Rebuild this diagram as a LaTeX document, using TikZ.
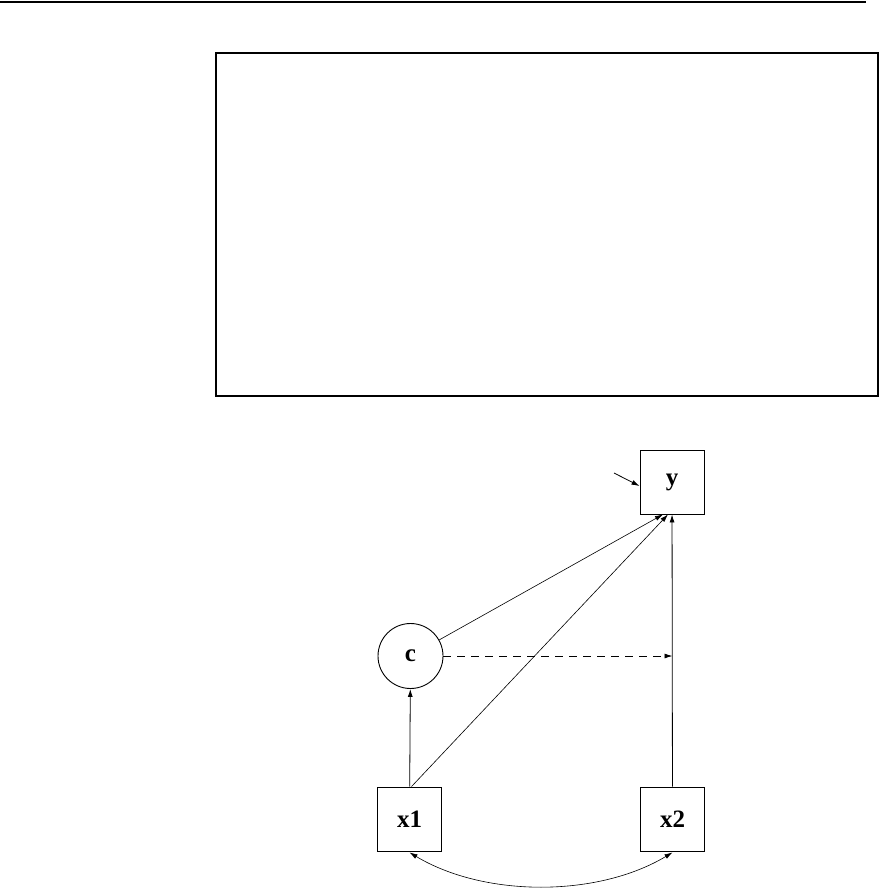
\documentclass[tikz,border=0pt]{standalone}
\usepackage{fontspec}
\setmainfont{Liberation Serif}
\usetikzlibrary{arrows.meta,positioning,calc}

\begin{document}
\begin{tikzpicture}[
  x=1pt,y=-1pt,
  obsvar/.style={rectangle,draw,line width=.9pt,minimum size=64pt,inner sep=0pt,font=\fontsize{25}{30}\selectfont\bfseries},
  latvar/.style={circle,draw,line width=.9pt,minimum size=65pt,inner sep=0pt,font=\fontsize{25}{30}\selectfont\bfseries},
  arr/.style={-{Latex[length=8pt,width=5pt]},line width=.8pt},
  dasharr/.style={-{Latex[length=8pt,width=5pt]},line width=.8pt,dash pattern=on 8pt off 6pt},
  covarr/.style={{Latex[length=8pt,width=5pt]}-{Latex[length=8pt,width=5pt]},line width=.6pt}
]
  \useasboundingbox (0,0) rectangle (879,889);

  % header rule and empty frame
  \draw[line width=2.4pt] (0,2) -- (866,2);
  \draw[line width=1.5pt] (216,53) rectangle (878,396);

  \node[obsvar] (y) at (672,482) {y};
  \node[latvar] (c) at (410.5,656) {c};
  \node[obsvar] (x1) at (409.5,819) {x1};
  \node[obsvar] (x2) at (672.5,819) {x2};

  \coordinate (res) at (614,473);
  \coordinate (m) at (c -| x2);

  \draw[arr] (res) -- ([yshift=-4pt]y.west);
  \draw[arr] (x1) -- (c);
  \draw[arr,line width=.6pt] (c) -- ([xshift=-9pt]y.south);
  \draw[arr,line width=.6pt] ([xshift=2pt]x1.north) -- ([xshift=-4pt]y.south);
  \draw[arr] (x2) -- (y);
  \draw[dasharr] (c) -- (m);

  \draw[covarr] ([yshift=-1pt]x1.south) .. controls +(75,45) and +(-75,45) .. ([yshift=-1pt]x2.south);
\end{tikzpicture}
\end{document}
